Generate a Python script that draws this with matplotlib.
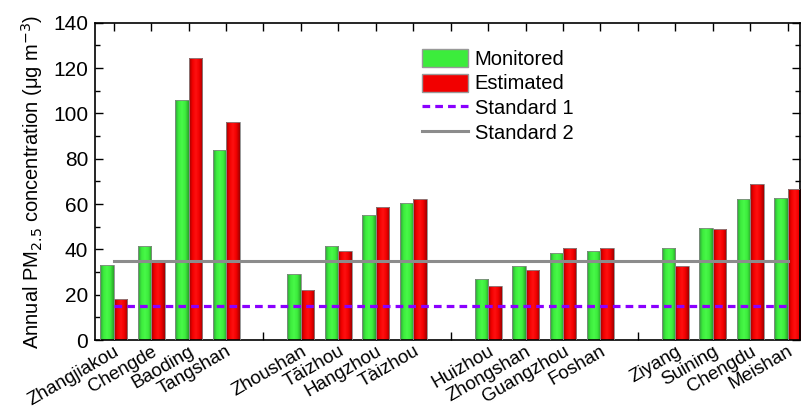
import numpy as np
import matplotlib
matplotlib.use("Agg")
import matplotlib.pyplot as plt
from matplotlib.patches import Patch
from matplotlib.lines import Line2D
from matplotlib.colors import LinearSegmentedColormap

plt.rcParams['font.family'] = ['Liberation Sans', 'DejaVu Sans']

cities = ["Zhangjiakou", "Chengde", "Baoding", "Tangshan",
          "Zhoushan", "Tāizhou", "Hangzhou", "Tàizhou",
          "Huizhou", "Zhongshan", "Guangzhou", "Foshan",
          "Ziyang", "Suining", "Chengdu", "Meishan"]
group_of_city = [0, 0, 0, 0, 1, 1, 1, 1, 2, 2, 2, 2, 3, 3, 3, 3]
monitored = [33.1, 41.5, 105.9, 83.8, 29.1, 41.5, 55.0, 60.3,
             26.9, 32.5, 38.4, 39.1, 40.4, 49.3, 62.1, 62.6]
estimated = [18.2, 34.9, 124.4, 96.0, 22.2, 39.1, 58.5, 62.2,
             24.0, 31.0, 40.7, 40.7, 32.5, 48.8, 69.0, 66.6]
standard1 = 15
standard2 = 35
yticks = [0, 20, 40, 60, 80, 100, 120, 140]

# positions: 4 cities per group, one empty slot between groups
pos = []
idx_in_group = {}
for g in group_of_city:
    k = idx_in_group.get(g, 0)
    pos.append(g * 5 + k)
    idx_in_group[g] = k + 1
pos = np.array(pos, dtype=float)
nslots = int(pos.max()) + 1

fig = plt.figure(figsize=(8.01, 4.07), dpi=100)
ax = fig.add_axes([95/801, 67/407, 705/801, 317.3/407])

w = 0.36
green_cmap = LinearSegmentedColormap.from_list("g", ["#2f9a3a", "#3cec3c", "#48f848", "#3cec3c", "#2aa02a"])
red_cmap = LinearSegmentedColormap.from_list("r", ["#9a0000", "#f20000", "#ff1010", "#f00000", "#a00000"])
grad = np.linspace(0, 1, 64).reshape(1, -1)

def grad_bars(xs, hs, cmap):
    bars = ax.bar(xs, hs, width=w, align='edge', color='none', edgecolor='#888888', linewidth=0.6, zorder=3)
    for b in bars:
        x0 = b.get_x(); x1 = x0 + b.get_width(); h = b.get_height()
        im = ax.imshow(grad, extent=[x0, x1, 0, h], aspect='auto', cmap=cmap, zorder=2, interpolation='bilinear')
        im.set_clip_path(b)
    return bars

grad_bars(pos - w, monitored, green_cmap)
grad_bars(pos, estimated, red_cmap)

dash = (0, (2.4, 1.6))
ax.plot([0, nslots - 1], [standard1, standard1], color='#8a00ff', linestyle=dash, linewidth=2.3, zorder=4)
ax.plot([0, nslots - 1], [standard2, standard2], color='#8c8c8c', linewidth=2.2, zorder=4)

ax.set_xlim(-0.5, 18.33)
ax.set_ylim(0, 140)
ax.set_yticks(yticks)
ax.set_yticks(np.arange(10, 140, 20), minor=True)
ax.tick_params(axis='y', which='major', direction='in', length=6, width=1, labelsize=15, right=True, pad=5)
ax.tick_params(axis='y', which='minor', direction='in', length=3.5, width=1, right=True)

all_slots = np.arange(nslots)
labels = [''] * nslots
for p, c in zip(pos, cities):
    labels[int(p)] = c
ax.set_xticks(all_slots)
ax.set_xticklabels(labels, rotation=30, ha='right', rotation_mode='anchor', fontsize=13.5)
ax.tick_params(axis='x', direction='in', length=6, width=1, top=True, pad=2)
for s in ax.spines.values():
    s.set_linewidth(1.2)

ax.set_ylabel("Annual PM$_{2.5}$ concentration (\u03bcg m$^{-3}$)", fontsize=14.5, labelpad=6)

handles = [Patch(facecolor='#3cec3c', edgecolor='#999999'),
           Patch(facecolor='#f20000', edgecolor='#999999'),
           Line2D([], [], color='#8a00ff', linestyle=dash, linewidth=2.3),
           Line2D([], [], color='#8c8c8c', linewidth=2.2)]
ax.legend(handles, ["Monitored", "Estimated", "Standard 1", "Standard 2"],
          loc='upper left', bbox_to_anchor=(0.45, 0.95), frameon=False, fontsize=14.5,
          handlelength=2.25, handleheight=1.0, labelspacing=0.25, handletextpad=0.35, borderpad=0)

fig.savefig("out.png", dpi=100)
